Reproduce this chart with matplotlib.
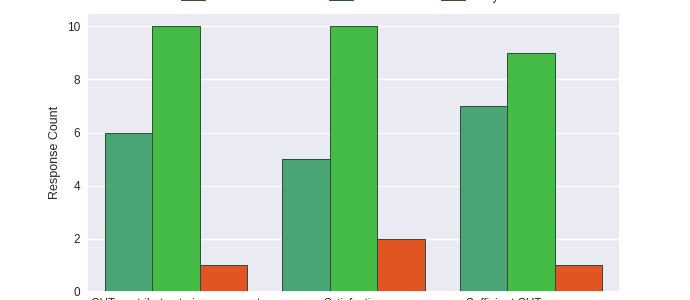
import matplotlib
matplotlib.use("Agg")
import matplotlib.pyplot as plt
import numpy as np
import seaborn as sns

categories = ["CUT contributes to improvement", "Satisfaction", "Sufficient CUT resources"]
series_names = ["To a Great Extent", "Somewhat", "Very Little"]
great_extent = [6, 5, 7]
somewhat = [10, 10, 9]
very_little = [1, 2, 1]
colors = ["#4aa574", "#44bb44", "#e05522"]

sns.set_theme(style="darkgrid")
plt.rcParams['font.family'] = ['Liberation Sans', 'DejaVu Sans']

fig = plt.figure(figsize=(6.9, 3.0), dpi=100)
ax = fig.add_axes([87/690, 8/300, (620-87)/690, (292-13)/300])

values = [great_extent, somewhat, very_little]
x = np.arange(len(categories))
w = 0.8 / 3
for i, (name, vals, c) in enumerate(zip(series_names, values, colors)):
    ax.bar(x + (i - 1) * w, vals, width=w, color=c, edgecolor="#2e4a36",
           linewidth=0.7, label=name)

ax.set_xlim(-0.5, 2.5)
ax.set_ylim(0, 10.5)
ax.set_yticks([0, 2, 4, 6, 8, 10])
ax.set_xticks(x)
ax.set_xticklabels(categories, fontsize=8.5)
ax.grid(False, axis='x')
ax.tick_params(axis='y', labelsize=8.5, length=0, pad=5)
ax.tick_params(axis='x', length=0, pad=4)
ax.set_ylabel("Response Count", fontsize=9, labelpad=4)
ax.legend(loc="lower center", bbox_to_anchor=(0.5, 0.998), ncol=3, fontsize=8.5,
          frameon=False)

fig.savefig("out.png", dpi=100)
